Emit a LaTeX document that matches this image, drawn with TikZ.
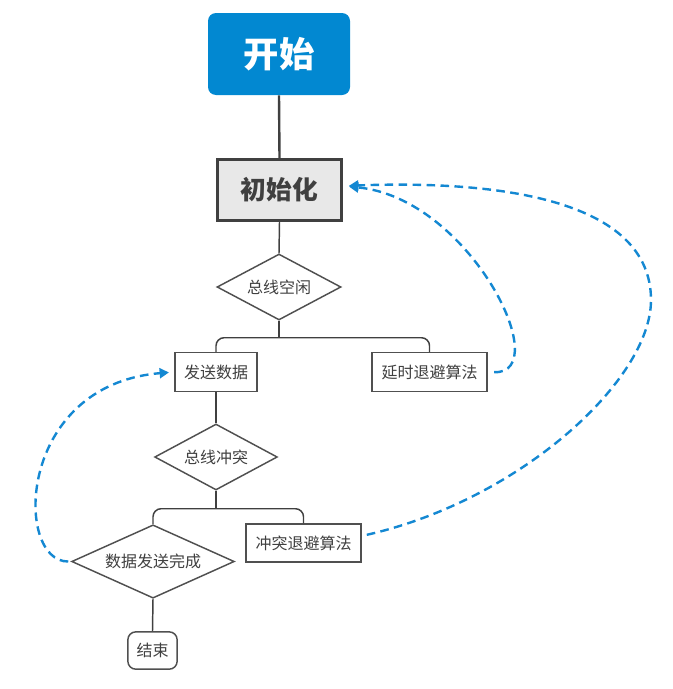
\documentclass[tikz,border=0pt]{standalone}
\usepackage{fontspec}
\setmainfont{Noto Sans CJK SC}
\usetikzlibrary{shapes.geometric,arrows.meta,calc}
\definecolor{blueA}{RGB}{2,136,209}
\definecolor{txt}{RGB}{64,64,64}
\definecolor{bord}{RGB}{80,80,80}
\definecolor{dashc}{RGB}{20,136,210}
\definecolor{initfill}{RGB}{232,232,232}
\begin{document}
\begin{tikzpicture}[x=0.75pt,y=-0.75pt,
  every node/.style={text=txt, font=\fontsize{12}{14}\selectfont, inner sep=0pt},
  box/.style={draw=bord, line width=1.1pt, fill=white, minimum height=29pt},
  dia/.style={diamond, draw=bord, line width=1.1pt, fill=white},
  conn/.style={draw=txt, line width=1.1pt},
  back/.style={draw=dashc, line width=1.8pt, dash pattern=on 6.5pt off 4pt,
    -{Triangle[length=7pt,width=7.5pt]}}]
\useasboundingbox (0,0) rectangle (673,689);
% nodes
\node[fill=blueA, rounded corners=6pt, minimum width=106.5pt, minimum height=61.5pt,
  text=white, font=\fontsize{26.5}{30}\selectfont\bfseries] (start) at (279,54) {开始};
\node[draw=txt, fill=initfill, line width=2.2pt, minimum width=93pt, minimum height=46pt,
  text=txt, font=\fontsize{19.3}{23}\selectfont\bfseries] (init) at (279.5,190) {初始化};
\node[dia, aspect=1.88, minimum width=93pt, minimum height=49.5pt] (d1) at (279,287) {总线空闲};
\node[box, minimum width=61.5pt] (send) at (216,372) {发送数据};
\node[box, minimum width=86pt] (delay) at (429.5,372) {延时退避算法};
\node[dia, aspect=1.85, minimum width=92pt, minimum height=49.5pt] (d2) at (216,457) {总线冲突};
\node[box, minimum width=86pt, minimum height=28.5pt] (coll) at (303.5,543) {冲突退避算法};
\node[dia, aspect=2.22, minimum width=122pt, minimum height=55pt] (d3) at (153,561.5) {数据发送完成};
\node[draw=bord, line width=1.1pt, rounded corners=6pt, minimum width=37pt, minimum height=28pt] (end) at (152.5,650.5) {结束};
% connectors
\draw[conn, line width=1.8pt] (start.south) -- (init.north);
\draw[conn] (init.south) -- (d1.north);
\draw[conn] (d1.south) -- ++(0,17) coordinate (j1);
\draw[conn, rounded corners=6pt] (send.north) |- (j1) -| (delay.north);
\draw[conn] (send.south) -- (d2.north);
\draw[conn] (d2.south) -- ++(0,18) coordinate (j2);
\draw[conn, rounded corners=6pt] (d3.north) |- (j2) -| (coll.north);
\draw[conn] (d3.south) -- (end.north);
% feedback arrows
\draw[back, shorten <=5pt, shorten >=4.5pt] (delay.east) .. controls (556,374) and (470,198) .. ($(init.east)+(0,-4)$);
\draw[back, shorten <=4pt, shorten >=4.5pt] ($(coll.east)+(0,-7)$) .. controls (520,500) and (651,380) .. (651,300)
   .. controls (651,200) and (500,180) .. ($(init.east)+(0,-4)$);
\draw[back, shorten <=2pt, shorten >=4pt] (d3.west) .. controls (14,562) and (16,385) .. (send.west);
\end{tikzpicture}
\end{document}
